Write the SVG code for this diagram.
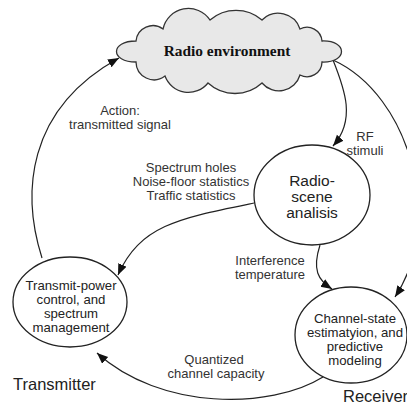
<svg xmlns="http://www.w3.org/2000/svg" width="407" height="407" viewBox="0 0 407 407">
<style>
.node{fill:#fff;stroke:#222;stroke-width:1.3}
.cloud{fill:#e8e8e8;stroke:#333;stroke-width:1.3}
.edge{fill:none;stroke:#222;stroke-width:1.2;marker-end:url(#arr)}
.t{font-family:"Liberation Sans",Arial,sans-serif;fill:#333;text-anchor:middle}
.lbl{font-size:13px}
.nt{font-size:13.2px;fill:#222}
.big{font-size:15.5px;fill:#222}
.side{font-family:"Liberation Sans",Arial,sans-serif;font-size:16.5px;fill:#222}
</style>
<defs>
<marker id="arr" markerUnits="userSpaceOnUse" markerWidth="12" markerHeight="10" refX="11" refY="4.5" orient="auto">
<path d="M0,0 L11,4.5 L0,9 z" fill="#111"/>
</marker>
</defs>
<g id="connectors">
<path class="edge" d="M42 258 C22 195, 25 110, 119 58"/>
<path class="edge" d="M333 60 C345 90, 356 120, 333 146"/>
<path class="edge" d="M333 60 C410 95, 445 222, 395 297"/>
<path class="edge" d="M254 203 C180 218, 140 225, 118 275"/>
<path class="edge" d="M320 245 C312 270, 318 280, 332 289"/>
<path class="edge" d="M323 377 C270 410, 160 410, 97 353"/>
</g>
<g id="radio-environment">
<path class="cloud" d="M163 29 A26 26 0 0 1 210 20 A40 40 0 0 1 262 20 A23 23 0 0 1 300 29 A15 15 0 0 1 322 41 C348 40, 348 63, 322 62 A15 15 0 0 1 300 75 A22 22 0 0 1 262 83 A40 40 0 0 1 208 83 A25 25 0 0 1 165 76 A18 18 0 0 1 136 62 C110 62, 110 41, 136 41 A17 17 0 0 1 163 29 Z"/>
<text x="227" y="56" font-family="'Liberation Serif','Times New Roman',serif" font-weight="bold" font-size="15.4" fill="#111" text-anchor="middle">Radio environment</text>
</g>
<g id="radio-scene-analysis">
<ellipse class="node" cx="312" cy="195" rx="58" ry="50"/>
<text class="t big" x="312" y="186">Radio-</text>
<text class="t big" x="312" y="202">scene</text>
<text class="t big" x="312" y="218">analisis</text>
</g>
<g id="transmit-power-control">
<ellipse class="node" cx="70" cy="302" rx="57" ry="45"/>
<text class="t nt" x="71" y="290">Transmit-power</text>
<text class="t nt" x="71" y="304">control, and</text>
<text class="t nt" x="71" y="318">spectrum</text>
<text class="t nt" x="71" y="332">management</text>
</g>
<g id="channel-state-estimation">
<ellipse class="node" cx="351" cy="335" rx="56" ry="48"/>
<text class="t nt" x="355" y="323">Channel-state</text>
<text class="t nt" x="355" y="337">estimatyion, and</text>
<text class="t nt" x="355" y="351">predictive</text>
<text class="t nt" x="355" y="365">modeling</text>
</g>
<g id="labels">
<text class="t lbl" x="120" y="115">Action:</text>
<text class="t lbl" x="120" y="129">transmitted signal</text>
<text class="t lbl" x="365" y="141">RF</text>
<text class="t lbl" x="365" y="155">stimuli</text>
<text class="t lbl" x="191" y="172">Spectrum holes</text>
<text class="t lbl" x="191" y="186">Noise-floor statistics</text>
<text class="t lbl" x="191" y="200">Traffic statistics</text>
<text class="t lbl" x="270" y="265">Interference</text>
<text class="t lbl" x="270" y="279">temperature</text>
<text class="t lbl" x="214" y="364">Quantized</text>
<text class="t lbl" x="216" y="378">channel capacity</text>
<text class="side" x="13" y="390">Transmitter</text>
<text class="side" x="343" y="402">Receiver</text>
</g>
</svg>
